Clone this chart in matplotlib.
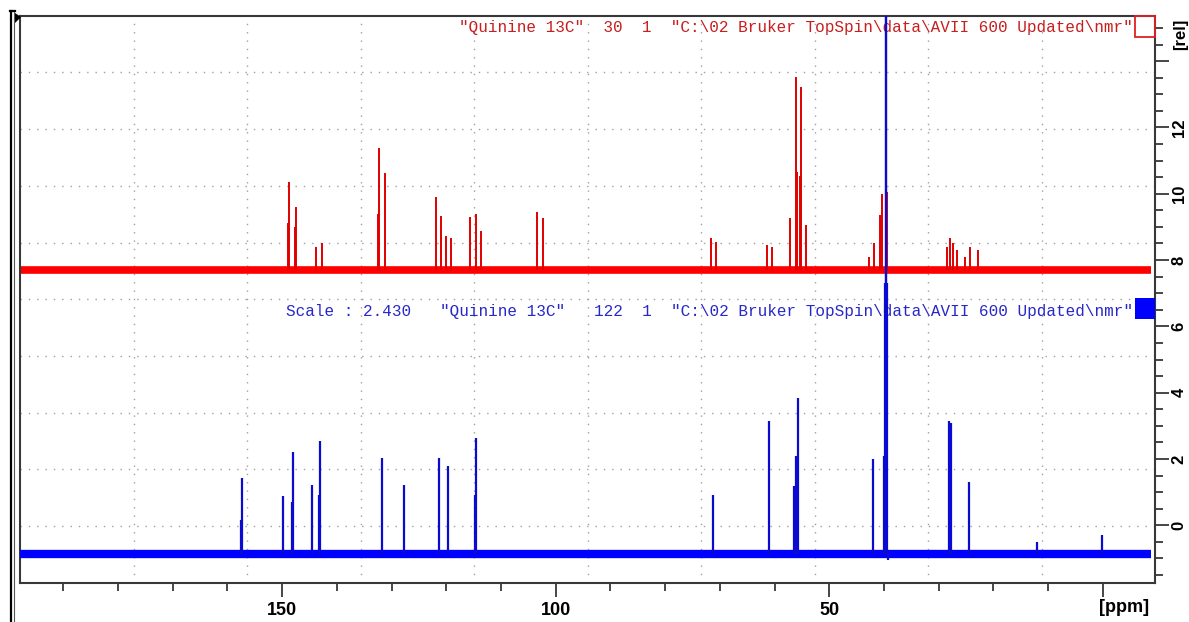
# -*- coding: utf-8 -*-
"""
Два 13C-спектра хинина в одном окне (стиль TopSpin):
красный сверху со смещением, синий снизу, общая ось [rel] справа.
Пики задаются списками (ppm, высота), шум базовой линии - толстой линией.
"""

import matplotlib.pyplot as plt
from matplotlib.patches import Rectangle, Polygon
from matplotlib.lines import Line2D

# ------------------- ДАННЫЕ -------------------

# красный спектр (смещён по вертикали)
RED_BASE = 7.7
RED_PPM = [148.67, 148.9, 147.44, 147.6, 143.79, 142.64, 132.22, 132.4, 131.18,
           121.91, 120.89, 120.08, 119.12, 115.64, 114.60, 113.58, 103.45, 102.25,
           71.66, 70.74, 61.42, 60.45, 57.16, 56.12, 55.95, 55.40, 55.21, 54.24,
           42.78, 41.81, 40.72, 40.30, 39.38,
           28.53, 27.92, 27.40, 26.70, 25.20, 24.27, 22.86]
RED_INT = [10.36, 9.13, 9.61, 9.0, 8.40, 8.53, 11.37, 9.4, 10.62,
           9.91, 9.33, 8.73, 8.66, 9.29, 9.38, 8.88, 9.46, 9.26,
           8.66, 8.54, 8.46, 8.40, 9.26, 13.51, 10.67, 10.54, 13.21, 9.06,
           8.10, 8.52, 9.36, 10.00, 10.06,
           8.40, 8.66, 8.50, 8.30, 8.10, 8.40, 8.30]

# синий спектр
BLUE_BASE = -0.85
BLUE_PPM = [157.36, 157.55, 149.87, 148.04, 148.2, 144.52, 143.06, 143.25,
            131.67, 127.65, 121.36, 119.61, 114.60, 114.8,
            71.24, 60.95, 56.40, 56.07, 55.66,
            39.95, 39.85, 39.70, 39.55, 39.40, 39.30,
            42.05, 28.10, 27.80, 24.47, 12.08, 0.20]
BLUE_INT = [1.42, 0.16, 0.88, 2.22, 0.7, 1.21, 2.54, 0.9,
            2.04, 1.21, 2.04, 1.80, 2.62, 0.9,
            0.91, 3.16, 1.20, 2.09, 3.83,
            2.10, 7.30, 30.0, 30.0, 7.30, -1.05,
            2.00, 3.16, 3.10, 1.30, -0.50, -0.29]

SPEC_FROM, SPEC_TO = 198.0, -8.8        # диапазон записи, ppm
X_LIM = (197.9, -9.54)
Y_LIM = (-1.73, 15.37)

X_MAJOR = [150, 100, 50, 0]
X_LABELS = ["150", "100", "50", ""]
X_MINOR = list(range(190, -10, -10))
Y_MAJOR = [0, 2, 4, 6, 8, 10, 12, 14]
Y_LABELS = ["0", "2", "4", "6", "8", "10", "12", ""]
Y_MINOR = [v / 2 for v in range(-3, 31)]

RED_TITLE = '"Quinine 13C"  30  1  "C:\\02 Bruker TopSpin\\data\\AVII 600 Updated\\nmr"'
BLUE_TITLE = ('Scale : 2.430   "Quinine 13C"   122  1  '
              '"C:\\02 Bruker TopSpin\\data\\AVII 600 Updated\\nmr"')

# ------------------- РИСОВАНИЕ -------------------

W, H = 1189, 622
AXIS_FONT = "Liberation Sans"


def fx(px):
    return px / W


def fy(py):
    return 1 - py / H


fig = plt.figure(figsize=(W / 100, H / 100), dpi=100)
ax = fig.add_axes([fx(20), fy(582.7), (1155 - 20) / W, (582.7 - 15.7) / H])
ax.set_xlim(*X_LIM)
ax.set_ylim(*Y_LIM)

# пунктирная сетка - фиксированные 10 делений окна
for i in range(1, 10):
    f = i / 10
    ax.plot([f, f], [0, 1], transform=ax.transAxes, color="#a0a0a0",
            lw=1.0, ls=(0, (1, 5)), zorder=0)
    ax.plot([0, 1], [f, f], transform=ax.transAxes, color="#a0a0a0",
            lw=1.0, ls=(0, (1, 5)), zorder=0)

# подписи спектров (под линиями, как в TopSpin)
ax.text(fx(1132.5), fy(32), RED_TITLE, transform=fig.transFigure,
        ha="right", va="baseline", color="#c81e1e",
        family="Liberation Mono", fontsize=11.5, zorder=1)
ax.text(fx(1132.5), fy(316), BLUE_TITLE, transform=fig.transFigure,
        ha="right", va="baseline", color="#2828c8",
        family="Liberation Mono", fontsize=11.5, zorder=1)

# красный спектр
ax.plot([SPEC_FROM, SPEC_TO], [RED_BASE, RED_BASE], color="#ff0000",
        lw=5.5, solid_capstyle="butt", zorder=2)
ax.vlines(RED_PPM, RED_BASE, RED_INT, color="#e00000", lw=1.4, zorder=2)

# синий спектр
ax.plot([SPEC_FROM, SPEC_TO], [BLUE_BASE, BLUE_BASE], color="#0000ff",
        lw=6, solid_capstyle="butt", zorder=3)
ax.vlines(BLUE_PPM, BLUE_BASE, BLUE_INT, color="#0a0ad0", lw=1.6, zorder=3)

# оси
for side in ("left", "right", "top", "bottom"):
    ax.spines[side].set_color("#383838")
    ax.spines[side].set_linewidth(1.5)

ax.yaxis.tick_right()
ax.set_xticks(X_MAJOR)
ax.set_xticklabels(X_LABELS, fontsize=13, fontweight="bold", family=AXIS_FONT)
ax.set_xticks(X_MINOR, minor=True)
ax.set_yticks(Y_MAJOR)
ax.set_yticklabels(Y_LABELS, fontsize=12, fontweight="bold", family=AXIS_FONT,
                   rotation=90, va="center")
ax.set_yticks(Y_MINOR, minor=True)
ax.tick_params(which="major", length=10, width=1.3, color="#383838")
ax.tick_params(which="minor", length=6, width=1.3, color="#383838")
ax.tick_params(axis="x", which="major", pad=4)
ax.tick_params(axis="y", which="major", pad=2)
ax.tick_params(top=False, left=False, right=True, bottom=True,
               labelleft=False, labelright=True)
ax.tick_params(which="minor", top=False, left=False, right=True, bottom=True)

fig.text(fx(1124), fy(608), "[ppm]", ha="center", va="center",
         fontsize=13, fontweight="bold", family=AXIS_FONT)
fig.text(fx(1181), fy(34), "[rel]", ha="center", va="center",
         fontsize=12, fontweight="bold", family=AXIS_FONT, rotation=90)

# маркеры спектров справа
fig.add_artist(Rectangle((fx(1135), fy(36.5)), 20 / W, 20.5 / H,
                         transform=fig.transFigure, fill=False,
                         edgecolor="#e02020", lw=1.3))
fig.add_artist(Rectangle((fx(1135), fy(319)), 20 / W, 21 / H,
                         transform=fig.transFigure, facecolor="#0000ff",
                         edgecolor="none"))

# рамка окна слева
fig.add_artist(Line2D([fx(10.5), fx(10.5)], [fy(11), 0], color="black",
                      lw=1.6, transform=fig.transFigure))
fig.add_artist(Line2D([fx(14), fx(14)], [fy(11), 0], color="#555555",
                      lw=0.8, transform=fig.transFigure))
fig.add_artist(Line2D([fx(9.5), fx(15)], [fy(11), fy(11)], color="black",
                      lw=1.6, transform=fig.transFigure))
fig.add_artist(Polygon([(fx(15), fy(13)), (fx(15), fy(23)), (fx(21), fy(17))],
                       closed=True, transform=fig.transFigure,
                       facecolor="black", edgecolor="none"))

fig.savefig("out.png", dpi=100)
